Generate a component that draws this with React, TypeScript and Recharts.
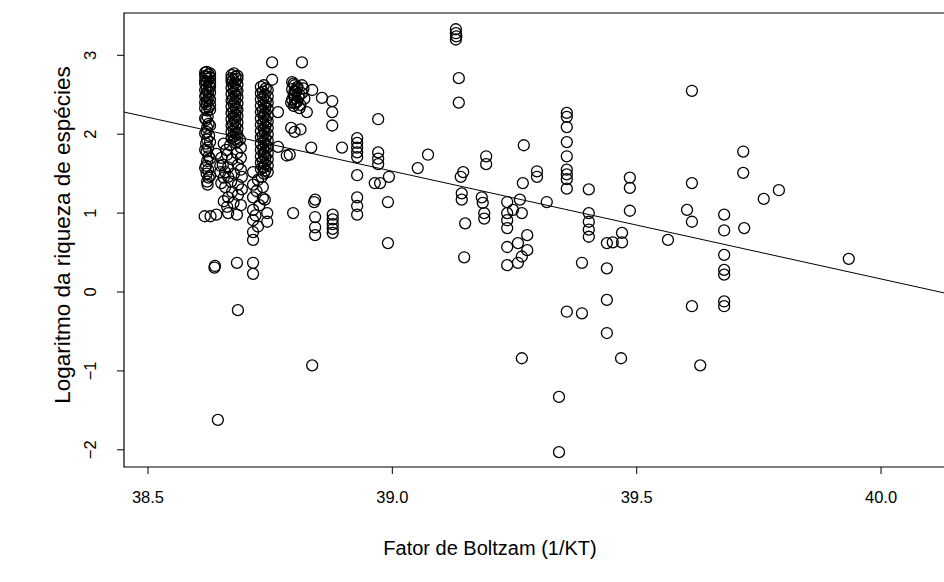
import React from 'react';
import { ScatterChart, Scatter, XAxis, YAxis, ReferenceLine, ReferenceArea } from 'recharts';

type Pair = [number, number];

// axis settings
const xMin = 38.4509;
const xMax = 40.1493;
const yMin = -2.218;
const yMax = 3.536;
const xTicks = [38.5, 39.0, 39.5, 40.0];
const yTicks = [-2, -1, 0, 1, 2, 3];

// fitted line: y = a + b * x
const fitIntercept = 54.805;
const fitSlope = -1.366;

// first dense column (~38.62)
const colA: Pair[] = [
  [38.620, 2.79], [38.624, 2.76], [38.619, 2.73], [38.623, 2.70], [38.621, 2.66], [38.625, 2.62],
  [38.620, 2.58], [38.623, 2.54], [38.619, 2.50], [38.624, 2.46], [38.621, 2.42], [38.620, 2.38],
  [38.624, 2.34], [38.621, 2.30], [38.622, 2.22], [38.619, 2.18], [38.624, 2.13], [38.621, 2.08],
  [38.620, 2.03], [38.625, 1.98], [38.621, 1.93], [38.619, 1.88], [38.623, 1.83], [38.620, 1.78],
  [38.624, 1.72], [38.621, 1.66], [38.619, 1.60], [38.623, 1.55], [38.620, 1.50], [38.624, 1.45],
  [38.621, 1.40], [38.622, 1.36], [38.616, 0.96], [38.628, 0.96], [38.640, 0.98], [38.636, 0.31],
  [38.637, 0.33], [38.643, -1.62],
  [38.617, 2.78], [38.627, 2.77], [38.617, 2.74], [38.627, 2.72], [38.617, 2.68], [38.627, 2.66],
  [38.617, 2.64], [38.627, 2.60], [38.617, 2.56], [38.627, 2.53], [38.617, 2.48], [38.627, 2.44],
  [38.617, 2.40], [38.627, 2.37], [38.617, 2.33], [38.627, 2.31], [38.617, 2.20], [38.627, 2.11],
  [38.617, 2.01], [38.627, 1.90], [38.617, 1.80], [38.627, 1.69], [38.617, 1.57], [38.627, 1.47],
];

// second dense column (~38.68)
const colB: Pair[] = [
  [38.676, 2.77], [38.679, 2.73], [38.674, 2.69], [38.678, 2.65], [38.675, 2.61], [38.680, 2.57],
  [38.676, 2.53], [38.679, 2.49], [38.674, 2.45], [38.678, 2.41], [38.676, 2.37], [38.680, 2.33],
  [38.675, 2.29], [38.679, 2.25], [38.676, 2.21], [38.678, 2.17], [38.674, 2.13], [38.679, 2.09],
  [38.676, 2.05], [38.680, 2.01], [38.675, 1.97], [38.678, 1.93], [38.680, 1.89], [38.688, 1.93],
  [38.655, 1.88], [38.660, 1.80], [38.640, 1.75], [38.648, 1.60], [38.662, 1.74], [38.682, 1.76],
  [38.653, 1.61], [38.664, 1.58], [38.684, 1.61], [38.664, 1.46], [38.692, 1.46], [38.648, 1.52],
  [38.655, 1.45], [38.658, 1.33], [38.684, 1.36], [38.664, 1.20], [38.684, 1.23], [38.662, 1.08],
  [38.682, 0.98], [38.664, 1.00], [38.682, 0.37], [38.684, -0.23],
  [38.671, 2.75], [38.683, 2.74], [38.671, 2.71], [38.683, 2.70], [38.671, 2.67], [38.683, 2.63],
  [38.671, 2.59], [38.683, 2.55], [38.671, 2.51], [38.683, 2.47], [38.671, 2.43], [38.683, 2.39],
  [38.671, 2.35], [38.683, 2.31], [38.671, 2.27], [38.683, 2.23], [38.671, 2.19], [38.683, 2.15],
  [38.671, 2.11], [38.683, 2.07], [38.671, 2.03], [38.683, 1.99], [38.671, 1.95], [38.683, 1.91],
  [38.668, 1.86], [38.690, 1.83], [38.650, 1.70], [38.672, 1.68], [38.690, 1.70], [38.658, 1.52],
  [38.676, 1.50], [38.690, 1.55], [38.670, 1.40], [38.650, 1.38], [38.692, 1.30], [38.672, 1.27],
  [38.655, 1.15], [38.675, 1.13], [38.690, 1.10],
];

// third dense column (~38.74)
const colC: Pair[] = [
  [38.737, 2.62], [38.741, 2.58], [38.735, 2.54], [38.739, 2.50], [38.736, 2.46], [38.741, 2.42],
  [38.737, 2.38], [38.740, 2.34], [38.735, 2.30], [38.739, 2.26], [38.737, 2.22], [38.741, 2.18],
  [38.736, 2.14], [38.740, 2.10], [38.737, 2.06], [38.739, 2.02], [38.735, 1.98], [38.740, 1.94],
  [38.737, 1.90], [38.741, 1.86], [38.736, 1.82], [38.739, 1.78], [38.737, 1.74], [38.740, 1.70],
  [38.735, 1.66], [38.739, 1.62], [38.737, 1.58], [38.740, 1.54], [38.737, 1.50], [38.754, 2.91],
  [38.754, 2.69], [38.715, 1.52], [38.733, 1.46], [38.715, 1.36], [38.735, 1.33], [38.715, 1.20],
  [38.735, 1.19], [38.739, 1.17], [38.715, 1.04], [38.744, 1.00], [38.715, 0.91], [38.744, 0.89],
  [38.715, 0.76], [38.715, 0.66], [38.715, 0.37], [38.715, 0.23],
  [38.731, 2.60], [38.745, 2.56], [38.731, 2.52], [38.745, 2.48], [38.731, 2.44], [38.745, 2.40],
  [38.731, 2.36], [38.745, 2.32], [38.731, 2.28], [38.745, 2.24], [38.731, 2.20], [38.745, 2.16],
  [38.731, 2.12], [38.745, 2.08], [38.731, 2.04], [38.745, 2.00], [38.731, 1.96], [38.745, 1.92],
  [38.731, 1.88], [38.745, 1.84], [38.731, 1.80], [38.745, 1.76], [38.731, 1.72], [38.745, 1.68],
  [38.731, 1.64], [38.745, 1.60], [38.731, 1.56], [38.745, 1.52], [38.725, 1.42], [38.722, 1.28],
  [38.728, 1.10], [38.720, 0.97], [38.725, 0.83],
];

// cluster around 38.8
const clusterD: Pair[] = [
  [38.795, 2.66], [38.800, 2.62], [38.806, 2.60], [38.795, 2.57], [38.803, 2.54], [38.798, 2.50],
  [38.808, 2.47], [38.795, 2.44], [38.803, 2.40], [38.798, 2.36], [38.810, 2.33], [38.815, 2.62],
  [38.815, 2.52], [38.820, 2.45], [38.815, 2.91], [38.825, 2.28], [38.793, 2.08], [38.812, 2.06],
  [38.800, 2.03], [38.790, 1.74], [38.834, 1.83], [38.836, 2.56], [38.856, 2.46], [38.877, 2.42],
  [38.877, 2.28], [38.877, 2.11], [38.766, 2.28], [38.766, 1.84], [38.784, 1.73],
  [38.798, 2.64], [38.805, 2.58], [38.800, 2.55], [38.810, 2.50], [38.800, 2.46], [38.806, 2.42],
  [38.800, 2.39], [38.812, 2.37], [38.793, 2.40], [38.818, 2.58],
];

// 38.8 - 39.1
const midLeft: Pair[] = [
  [38.842, 1.17], [38.840, 1.14], [38.842, 0.95], [38.842, 0.82], [38.842, 0.72], [38.878, 0.98],
  [38.878, 0.92], [38.878, 0.86], [38.878, 0.80], [38.878, 0.75], [38.897, 1.83], [38.928, 1.95],
  [38.928, 1.89], [38.928, 1.83], [38.928, 1.77], [38.928, 1.71], [38.928, 1.48], [38.928, 1.20],
  [38.928, 1.09], [38.928, 0.98], [38.971, 2.19], [38.971, 1.77], [38.971, 1.69], [38.971, 1.62],
  [38.964, 1.38], [38.975, 1.38], [38.993, 1.46], [38.991, 1.14], [38.991, 0.62], [39.052, 1.57],
  [39.073, 1.74], [38.797, 1.00], [38.836, -0.93],
];

// 39.1 - 39.3
const mid: Pair[] = [
  [39.130, 3.33], [39.130, 3.28], [39.131, 3.24], [39.130, 3.20], [39.136, 2.71], [39.136, 2.40],
  [39.192, 1.72], [39.192, 1.62], [39.145, 1.52], [39.140, 1.46], [39.142, 1.25], [39.142, 1.17],
  [39.183, 1.20], [39.185, 1.13], [39.188, 1.00], [39.188, 0.93], [39.149, 0.87], [39.147, 0.44],
  [39.235, 1.14], [39.235, 1.00], [39.235, 0.91], [39.235, 0.81], [39.247, 1.04], [39.261, 1.17],
  [39.265, 1.00], [39.235, 0.57], [39.235, 0.34], [39.257, 0.62], [39.257, 0.37], [39.276, 0.72],
  [39.276, 0.53], [39.265, 0.45], [39.265, -0.84], [39.269, 1.86], [39.296, 1.53], [39.296, 1.46],
  [39.267, 1.38], [39.316, 1.14],
];

// 39.3 - 40.0
const right: Pair[] = [
  [39.357, 2.27], [39.357, 2.22], [39.357, 2.09], [39.357, 1.90], [39.357, 1.72], [39.357, 1.55],
  [39.357, 1.49], [39.357, 1.43], [39.357, 1.31], [39.341, -1.33], [39.341, -2.03], [39.357, -0.25],
  [39.388, -0.27], [39.402, 1.30], [39.402, 1.00], [39.402, 0.89], [39.402, 0.79], [39.402, 0.70],
  [39.388, 0.37], [39.439, 0.62], [39.451, 0.63], [39.470, 0.63], [39.470, 0.75], [39.439, 0.30],
  [39.439, -0.10], [39.439, -0.52], [39.468, -0.84], [39.486, 1.45], [39.486, 1.32], [39.486, 1.03],
  [39.564, 0.66], [39.613, 2.55], [39.613, 1.38], [39.603, 1.04], [39.613, 0.89], [39.613, -0.18],
  [39.630, -0.93], [39.679, 0.98], [39.679, 0.78], [39.679, 0.47], [39.679, 0.28], [39.679, 0.22],
  [39.679, -0.12], [39.679, -0.18], [39.718, 1.78], [39.718, 1.51], [39.720, 0.81], [39.760, 1.18],
  [39.791, 1.29], [39.934, 0.42],
];

const points = [...colA, ...colB, ...colC, ...clusterD, ...midLeft, ...mid, ...right].map(([x, y]) => ({ x, y }));

const font = '"Liberation Sans", Arial, Helvetica, sans-serif';

const OpenCircle = (props: any) => (
  <circle cx={props.cx} cy={props.cy} r={5.5} fill="none" stroke="#000" strokeWidth={1.3} />
);

const XTick = ({ x, payload }: any) => (
  <text x={x} y={503} textAnchor="middle" fontSize={16.5} fontFamily={font} fill="#000">
    {Number(payload.value).toFixed(1)}
  </text>
);

const YTick = ({ y, payload }: any) => (
  <text x={96} y={y} transform={`rotate(-90 96 ${y})`} textAnchor="middle" fontSize={16.5} fontFamily={font} fill="#000">
    {payload.value < 0 ? `\u2212${Math.abs(payload.value)}` : payload.value}
  </text>
);

const App = () => (
  <div style={{ position: 'absolute', left: 0, top: 0, width: 944, height: 582, overflow: 'hidden', background: '#fff' }}>
    <ScatterChart width={954} height={582} margin={{ top: 13, right: 0, bottom: 0, left: 0 }}>
      <XAxis
        dataKey="x"
        type="number"
        domain={[xMin, xMax]}
        ticks={xTicks}
        allowDataOverflow
        height={115}
        axisLine={false}
        tickSize={7}
        tickLine={{ stroke: '#000' }}
        tick={<XTick />}
      />
      <YAxis
        dataKey="y"
        type="number"
        domain={[yMin, yMax]}
        ticks={yTicks}
        allowDataOverflow
        width={124}
        axisLine={false}
        tickSize={7}
        tickLine={{ stroke: '#000' }}
        tick={<YTick />}
      />
      <ReferenceArea x1={xMin} x2={xMax} y1={yMin} y2={yMax} fill="none" stroke="#000" strokeWidth={1.2} />
      <ReferenceLine
        segment={[
          { x: xMin, y: fitIntercept + fitSlope * xMin },
          { x: xMax, y: fitIntercept + fitSlope * xMax },
        ]}
        stroke="#000"
        strokeWidth={1}
      />
      <Scatter data={points} shape={<OpenCircle />} isAnimationActive={false} />
    </ScatterChart>
    <svg width={944} height={582} style={{ position: 'absolute', left: 0, top: 0, pointerEvents: 'none' }}>
      <text x={490} y={555} textAnchor="middle" fontSize={20} fontFamily={font} fill="#000">
        Fator de Boltzam (1/KT)
      </text>
      <text x={70} y={235} transform="rotate(-90 70 235)" textAnchor="middle" fontSize={22.5} fontFamily={font} fill="#000">
        Logaritmo da riqueza de espécies
      </text>
    </svg>
  </div>
);

export default App;
